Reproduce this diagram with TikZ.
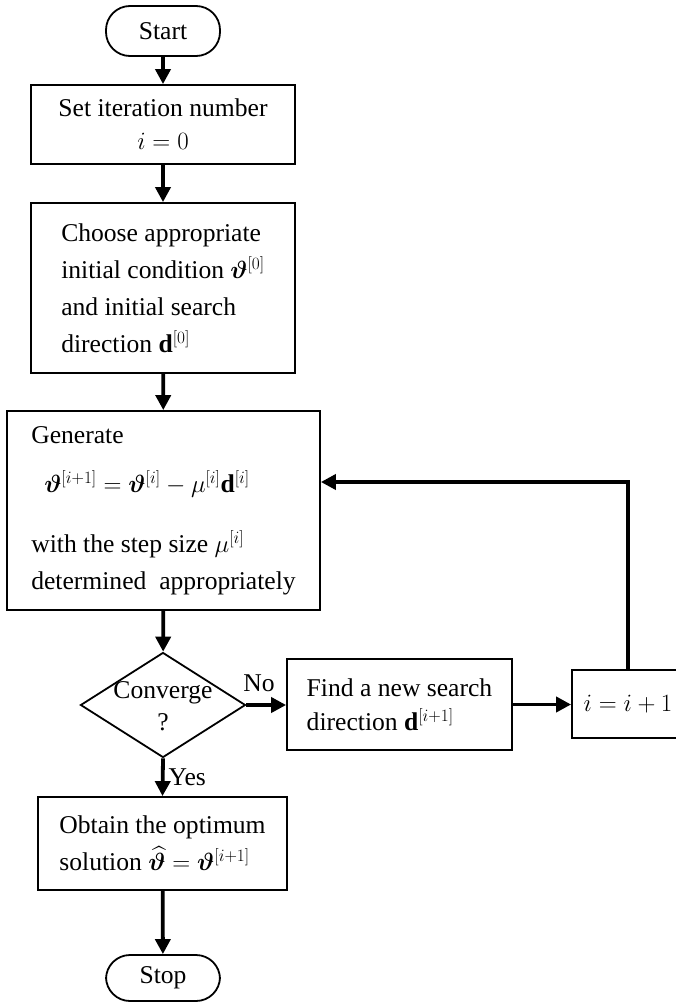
\documentclass[tikz,border=0pt]{standalone}
\usepackage{amsmath,bm}
\usepackage{fontspec}
\setmainfont{Liberation Serif}
\usetikzlibrary{shapes.geometric,arrows.meta}
\begin{document}
\begin{tikzpicture}[x=1pt,y=-1pt,
  every node/.style={font=\fontsize{25.6}{37}\selectfont},
  box/.style={draw,line width=1.8pt,inner sep=0pt},
  term/.style={draw,line width=1.8pt,rounded corners=24pt,minimum width=114pt,minimum height=50pt,inner sep=0pt},
  flow/.style={line width=3.8pt,-{Triangle[length=15pt,width=15pt]}},
  lbl/.style={inner sep=4pt}]
\useasboundingbox (0,0) rectangle (676,1004);

\node[term] (start) at (163,31) {Start};
\node[box,minimum width=264pt,minimum height=79pt,align=center] (b1) at (163,124.5)
  {Set iteration number\\[-4pt]$i=0$};
\node[box,minimum width=264pt,minimum height=170pt,align=left] (b2) at (163,288)
  {Choose appropriate\\ initial condition $\bm{\vartheta}^{[0]}$\\ and initial search\\ direction $\mathbf{d}^{[0]}$};
\node[box,minimum width=313pt,minimum height=199pt,align=left] (b3) at (163.5,510.5)
  {Generate\\[12pt]
   \hspace*{13pt}$\bm{\vartheta}^{[i+1]}=\bm{\vartheta}^{[i]}-\mu^{[i]}\mathbf{d}^{[i]}$\\[23pt]
   with the step size $\mu^{[i]}$\\ determined\ \ appropriately};
\node[draw,diamond,line width=1.8pt,minimum width=165pt,minimum height=105pt,inner sep=0pt] (dia) at (163,705) {};
\node[align=center,inner sep=0pt] (dtxt) at (163,706) {Converge\\[-5pt]?};
\node[box,minimum width=225pt,minimum height=91pt,align=left] (find) at (399.5,704.5)
  {Find a new search\\[-3pt] direction $\mathbf{d}^{[i+1]}$};
\node[box,minimum width=112pt,minimum height=68pt] (inc) at (628,704) {$i=i+1$};
\node[box,minimum width=249pt,minimum height=93pt,align=left] (obt) at (162.5,843.5)
  {Obtain the optimum\\[0pt] solution $\widehat{\bm{\vartheta}}=\bm{\vartheta}^{[i+1]}$};
\node[term,minimum height=46pt] (stop) at (163,978) {Stop};

\node[inner sep=0pt] (no) at (259,683) {No};
\coordinate (loop) at (628,482);

\draw[flow] (start) -- (b1);
\draw[flow] (b1) -- (b2);
\draw[flow] (b2) -- (b3);
\draw[flow] (b3) -- (dia);
\draw[flow] (dia.east) -- (dia.east -| find.west);
\draw[flow] (find.east) -- (find.east -| inc.west);
\draw[flow] (inc.north) -- (loop) -- (loop -| b3.east);
\draw[flow] (dia.south) -- node[right,lbl] (yes) {Yes} (obt.north);
\draw[flow] (obt) -- (stop);
\end{tikzpicture}
\end{document}
